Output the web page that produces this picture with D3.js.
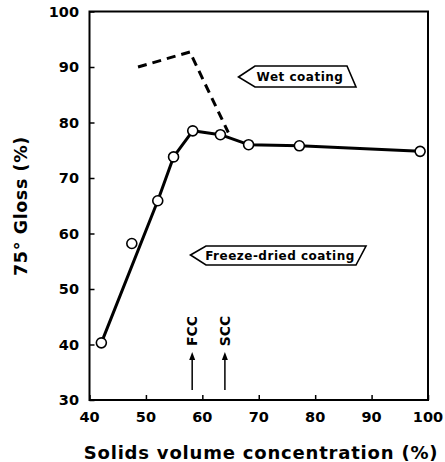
<!DOCTYPE html>
<html><head><meta charset="utf-8">
<script src="https://cdn.jsdelivr.net/npm/d3@7"></script>
<style>body{margin:0;background:#fff}svg{display:block}text{font-family:"DejaVu Sans",sans-serif;font-weight:bold;fill:#000}</style>
</head><body>
<script>
// Data
const freezeX = [42.1, 47.5, 52.1, 54.9, 58.3, 63.2, 68.2, 77.2, 98.6];
const freezeY = [40.3, 58.2, 65.9, 73.8, 78.5, 77.8, 76.0, 75.8, 74.8];
// fitted solid line (passes through all points except the 47.5 one)
const fitX = [42.1, 52.1, 54.9, 58.3, 63.2, 68.2, 77.2, 98.6];
const fitY = [40.3, 65.9, 73.8, 78.5, 77.8, 76.0, 75.8, 74.8];
const wetX = [48.6, 57.8, 64.6];
const wetY = [90.0, 92.7, 78.2];
const xTicks = [40, 50, 60, 70, 80, 90, 100];
const yTicks = [30, 40, 50, 60, 70, 80, 90, 100];
const markers = [{label: "FCC", x: 58.2}, {label: "SCC", x: 64.0}];

const W = 445, H = 462;
const svg = d3.select("body").append("svg").attr("width", W).attr("height", H);
const x = d3.scaleLinear().domain([40, 100]).range([89.5, 428]);
const y = d3.scaleLinear().domain([30, 100]).range([400, 11.5]);

// frame
svg.append("rect").attr("x", x(40)).attr("y", y(100))
  .attr("width", x(100) - x(40)).attr("height", y(30) - y(100))
  .attr("fill", "none").attr("stroke", "#000").attr("stroke-width", 2);

// inward ticks
const xAxis = d3.axisBottom(x).tickValues(xTicks).tickSizeInner(-5).tickSizeOuter(0).tickFormat("");
const gx = svg.append("g").attr("transform", `translate(0,${y(30)})`).call(xAxis);
gx.select(".domain").remove();
gx.selectAll("line").attr("stroke-width", 1.5);
const yAxis = d3.axisLeft(y).tickValues(yTicks).tickSizeInner(-5).tickSizeOuter(0).tickFormat("");
const gy = svg.append("g").attr("transform", `translate(${x(40)},0)`).call(yAxis);
gy.select(".domain").remove();
gy.selectAll("line").attr("stroke-width", 1.5);

// tick labels
svg.append("g").selectAll("text").data(xTicks).join("text")
  .attr("x", d => x(d)).attr("y", 422).attr("text-anchor", "middle")
  .attr("font-size", 14.5).text(d => d);
svg.append("g").selectAll("text").data(yTicks).join("text")
  .attr("x", 79).attr("y", d => y(d) + 5).attr("text-anchor", "end")
  .attr("font-size", 14.5).text(d => d);

// axis titles
svg.append("text").attr("x", 261).attr("y", 459).attr("text-anchor", "middle")
  .attr("font-size", 18).attr("letter-spacing", 0.8).text("Solids volume concentration (%)");
svg.append("text").attr("transform", `translate(27,${206}) rotate(-90)`)
  .attr("text-anchor", "middle").attr("font-size", 17.5).attr("letter-spacing", 0.6)
  .text("75° Gloss (%)");

// wet (dashed)
const line = d3.line().x(d => x(d[0])).y(d => y(d[1]));
svg.append("path").datum(wetX.map((v, i) => [v, wetY[i]])).attr("d", line)
  .attr("fill", "none").attr("stroke", "#000").attr("stroke-width", 3)
  .attr("stroke-dasharray", "9,6");

// freeze-dried fit line
svg.append("path").datum(fitX.map((v, i) => [v, fitY[i]])).attr("d", line)
  .attr("fill", "none").attr("stroke", "#000").attr("stroke-width", 3)
  .attr("stroke-linejoin", "round");

// circles
svg.append("g").selectAll("circle").data(freezeX.map((v, i) => [v, freezeY[i]])).join("circle")
  .attr("cx", d => x(d[0])).attr("cy", d => y(d[1])).attr("r", 5)
  .attr("fill", "#fff").attr("stroke", "#000").attr("stroke-width", 1.6);

// arrow-shaped label boxes
function arrowBox(tipX, tipY, leftX, top, bottom, trX, brX, label, fs, ls, tx) {
  const g = svg.append("g");
  g.append("path").attr("d",
    `M${tipX},${tipY} L${leftX},${top} L${trX},${top} L${brX},${bottom} L${leftX},${bottom} Z`)
    .attr("fill", "#fff").attr("stroke", "#000").attr("stroke-width", 1.6).attr("stroke-linejoin", "miter");
  g.append("text").attr("x", tx).attr("y", (top + bottom) / 2 + 4.5).attr("text-anchor", "middle")
    .attr("font-size", fs).attr("letter-spacing", ls).text(label);
}
arrowBox(238.5, 77, 255, 66, 87, 347, 356, "Wet coating", 12, 0.5, 300);
arrowBox(190.5, 255, 206, 246, 265, 366, 356, "Freeze-dried coating", 12, 0.5, 280);

// FCC / SCC markers
markers.forEach(m => {
  const cx = x(m.x);
  svg.append("line").attr("x1", cx).attr("x2", cx).attr("y1", 390).attr("y2", 358)
    .attr("stroke", "#000").attr("stroke-width", 1.5);
  svg.append("path").attr("d", `M${cx},352 L${cx - 3},360 L${cx + 3},360 Z`).attr("fill", "#000");
  svg.append("text").attr("transform", `translate(${cx + 5},331) rotate(-90)`)
    .attr("text-anchor", "middle").attr("font-size", 14).text(m.label);
});
</script>
</body></html>
